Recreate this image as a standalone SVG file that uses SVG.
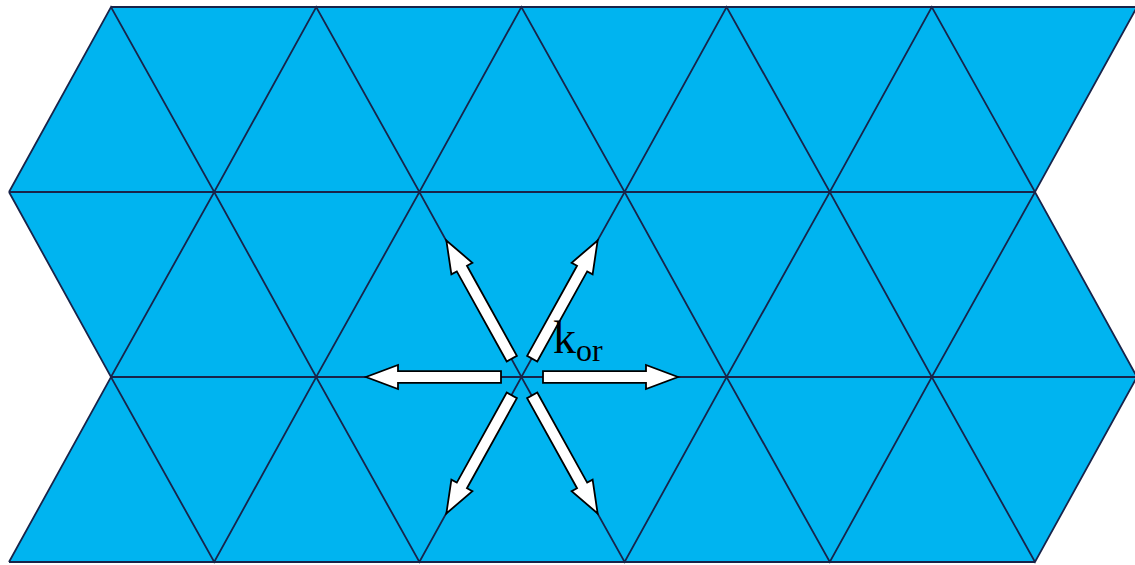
<svg xmlns="http://www.w3.org/2000/svg" xmlns:xlink="http://www.w3.org/1999/xlink" width="1135" height="565" viewBox="0 0 1135 565">
<style>
.grid{fill:none;stroke:#18244a;stroke-width:1.8;stroke-linejoin:miter}
.arr{fill:#ffffff;stroke:#000000;stroke-width:1.8;stroke-linejoin:miter}
.lbl{font-family:"Liberation Serif","Times New Roman",serif;fill:#000000}
</style>
<defs>
<polygon id="arrow" class="arr" points="21,-5.8 124,-5.8 124,-12 156,0 124,12 124,5.8 21,5.8"/>
</defs>
<rect width="1135" height="565" fill="#ffffff"/>
<g id="lattice">
<polygon fill="#00b4f0" points="111,7 1137,7 1035,192 1137,377 1035,562 9,562 111,377 9,192"/>
<g class="grid">
<polyline points="111,7 1137,7"/>
<polyline points="9,192 1035,192"/>
<polyline points="111,377 1137,377"/>
<polyline points="9,562 1035,562"/>
<polyline points="9,192 111,7 214.2,192 316.2,7 419.4,192 521.4,7 624.6,192 726.6,7 829.8,192 931.8,7 1035,192 1137,7"/>
<polyline points="9,192 111,377 214.2,192 316.2,377 419.4,192 521.4,377 624.6,192 726.6,377 829.8,192 931.8,377 1035,192 1137,377"/>
<polyline points="9,562 111,377 214.2,562 316.2,377 419.4,562 521.4,377 624.6,562 726.6,377 829.8,562 931.8,377 1035,562 1137,377"/>
</g>
</g>
<g id="arrows">
<use xlink:href="#arrow" href="#arrow" transform="translate(522,377)"/>
<use xlink:href="#arrow" href="#arrow" transform="translate(522,377) rotate(180)"/>
<use xlink:href="#arrow" href="#arrow" transform="translate(522,377) rotate(-61)"/>
<use xlink:href="#arrow" href="#arrow" transform="translate(522,377) rotate(-119)"/>
<use xlink:href="#arrow" href="#arrow" transform="translate(522,377) rotate(61)"/>
<use xlink:href="#arrow" href="#arrow" transform="translate(522,377) rotate(119)"/>
</g>
<g id="label">
<text class="lbl" x="553" y="353" font-size="46">k<tspan font-size="32" y="361">or</tspan></text>
</g>
</svg>
